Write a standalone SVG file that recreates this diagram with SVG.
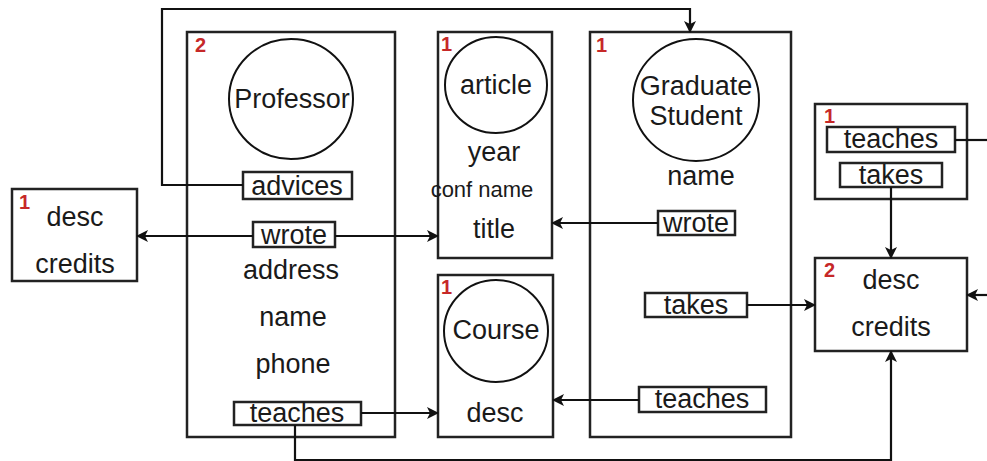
<svg xmlns="http://www.w3.org/2000/svg" width="987" height="461" viewBox="0 0 987 461">
<style>
.box{fill:#fff;stroke:#222;stroke-width:2.5}
.lab{fill:#fff;stroke:#222;stroke-width:2.5}
.ent{fill:#fff;stroke:#111;stroke-width:2}
.t{font-family:"Liberation Sans",Arial,sans-serif;font-size:27px;fill:#1a1a1a;text-anchor:middle;dominant-baseline:central}
.s{font-size:22px}
.n{font-family:"Liberation Sans",Arial,sans-serif;font-size:20px;font-weight:bold;fill:#c62828;dominant-baseline:central}
.c{fill:none;stroke:#111;stroke-width:2.2}
</style>
<defs>
<marker id="a" viewBox="0 0 12 12" refX="11" refY="6" markerWidth="12" markerHeight="12" markerUnits="userSpaceOnUse" orient="auto">
<path d="M0,0 L12,6 L0,12 L3,6 Z" fill="#111"/>
</marker>
</defs>
<g id="left-desc">
<rect class="box" x="12" y="189" width="125" height="92"/>
<text class="n" x="19" y="202">1</text>
<text class="t" x="75" y="217">desc</text>
<text class="t" x="75" y="264">credits</text>
</g>
<g id="professor">
<rect class="box" x="187" y="32" width="208" height="405"/>
<text class="n" x="195" y="45">2</text>
<ellipse class="ent" cx="291" cy="99" rx="62" ry="60"/>
<text class="t" x="292" y="99">Professor</text>
<rect class="lab" x="243" y="172" width="109" height="27"/>
<text class="t" x="297" y="186">advices</text>
<rect class="lab" x="253" y="222" width="82" height="25"/>
<text class="t" x="294" y="235">wrote</text>
<text class="t" x="291" y="270">address</text>
<text class="t" x="293" y="317">name</text>
<text class="t" x="293" y="364">phone</text>
<rect class="lab" x="234" y="402" width="127" height="23"/>
<text class="t" x="297" y="413">teaches</text>
</g>
<g id="article">
<rect class="box" x="438" y="32" width="114" height="226"/>
<text class="n" x="441" y="44">1</text>
<ellipse class="ent" cx="496" cy="85" rx="51" ry="48"/>
<text class="t" x="496" y="85">article</text>
<text class="t" x="494" y="152">year</text>
<text class="t s" x="482" y="189">conf name</text>
<text class="t" x="494" y="229">title</text>
</g>
<g id="course">
<rect class="box" x="438" y="275" width="115" height="162"/>
<text class="n" x="441" y="287">1</text>
<ellipse class="ent" cx="496" cy="331" rx="52" ry="51"/>
<text class="t" x="496" y="330">Course</text>
<text class="t" x="495" y="413">desc</text>
</g>
<g id="graduate-student">
<rect class="box" x="590" y="32" width="201" height="405"/>
<text class="n" x="596" y="45">1</text>
<ellipse class="ent" cx="696" cy="100" rx="63" ry="61"/>
<text class="t" x="696" y="86">Graduate</text>
<text class="t" x="696" y="116">Student</text>
<text class="t" x="701" y="176">name</text>
<rect class="lab" x="658" y="211" width="77" height="24"/>
<text class="t" x="696" y="223">wrote</text>
<rect class="lab" x="645" y="293" width="102" height="24"/>
<text class="t" x="696" y="305">takes</text>
<rect class="lab" x="639" y="387" width="127" height="25"/>
<text class="t" x="702" y="399">teaches</text>
</g>
<g id="right-top">
<rect class="box" x="815" y="104" width="152" height="95"/>
<text class="n" x="824" y="116">1</text>
<rect class="lab" x="827" y="127" width="128" height="25"/>
<text class="t" x="891" y="139">teaches</text>
<rect class="lab" x="840" y="163" width="102" height="24"/>
<text class="t" x="891" y="175">takes</text>
</g>
<g id="right-desc">
<rect class="box" x="815" y="258" width="152" height="93"/>
<text class="n" x="824" y="270">2</text>
<text class="t" x="891" y="280">desc</text>
<text class="t" x="891" y="327">credits</text>
</g>
<g id="connectors">
<path class="c" d="M243,185 H162 V9 H690 V32" marker-end="url(#a)"/>
<path class="c" d="M253,236 H137" marker-end="url(#a)"/>
<path class="c" d="M335,236 H438" marker-end="url(#a)"/>
<path class="c" d="M658,223 H552" marker-end="url(#a)"/>
<path class="c" d="M747,305 H815" marker-end="url(#a)"/>
<path class="c" d="M361,413 H438" marker-end="url(#a)"/>
<path class="c" d="M639,400 H553" marker-end="url(#a)"/>
<path class="c" d="M295,425 V460 H891 V351" marker-end="url(#a)"/>
<path class="c" d="M891,187 V258" marker-end="url(#a)"/>
<path class="c" d="M955,140 H987"/>
<path class="c" d="M987,295 H967" marker-end="url(#a)"/>
</g>
</svg>
